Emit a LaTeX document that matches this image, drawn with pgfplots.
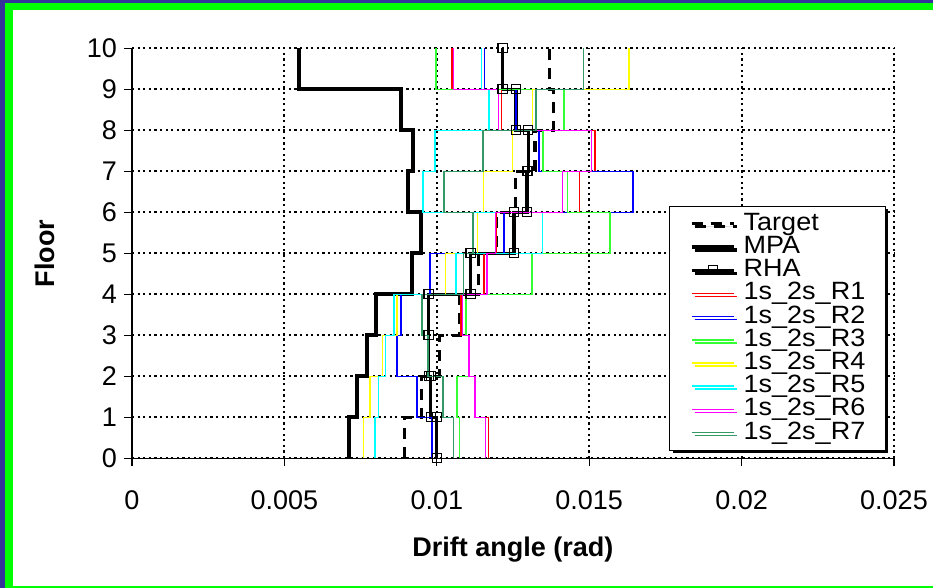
\documentclass[border=0pt]{standalone}
\usepackage{fontspec}
\setmainfont{Liberation Sans}
\newfontfamily\legendfont[FakeStretch=1.08]{Liberation Sans}
\usepackage{pgfplots}
\pgfplotsset{compat=1.18}
\usetikzlibrary{shadows}
\definecolor{frameblue}{RGB}{51,51,153}
\definecolor{framegreen}{RGB}{0,255,0}
\definecolor{rone}{RGB}{255,0,0}
\definecolor{rtwo}{RGB}{0,0,255}
\definecolor{rthree}{RGB}{51,255,51}
\definecolor{rfour}{RGB}{255,255,0}
\definecolor{rfive}{RGB}{0,255,255}
\definecolor{rsix}{RGB}{255,0,255}
\definecolor{rseven}{RGB}{51,153,102}

\begin{document}
\begin{tikzpicture}
% window frame
\fill[frameblue] (0,0) rectangle (466.5pt,294pt);
\fill[framegreen] (2.5pt,0) rectangle (466.5pt,292.25pt);
\fill[white] (6.5pt,1pt) rectangle (466.5pt,288.75pt);
\useasboundingbox (0,0) rectangle (466.5pt,294pt);
\begin{axis}[
  at={(66pt,64.85pt)}, anchor=south west,
  scale only axis, width=381pt, height=205pt,
  xmin=0, xmax=0.025, ymin=0, ymax=10,
  clip=false,
  scaled x ticks=false,
  xtick={0,0.005,0.01,0.015,0.02,0.025},
  xticklabels={0,0.005,0.01,0.015,0.02,0.025},
  ytick={0,1,2,3,4,5,6,7,8,9,10},
  yticklabels={0,1,2,3,4,5,6,7,8,9,10},
  axis x line*=bottom, axis y line*=left,
  axis line style={black, line width=0.6pt, -},
  tick align=outside, major tick length=4pt,
  tick style={black, line width=0.6pt},
  grid=major,
  major grid style={black, line width=1pt, dash pattern=on 1.1pt off 1.7pt},
  tick label style={font=\fontsize{13.5}{13.5}\selectfont},
  xticklabel style={yshift=-8.5pt},
  label style={font=\bfseries\fontsize{13.5}{13.5}\selectfont},
  xlabel={Drift angle (rad)},
  ylabel={Floor},
  xlabel style={at={(axis description cs:0.5,0)}, anchor=base, yshift=-49pt},
  ylabel style={at={(axis description cs:-0.1142,0.5)}, anchor=center},
  legend image code/.code={\draw[mark repeat=2,mark phase=2,#1] plot coordinates {(0pt,0pt) (10.5pt,0pt) (21pt,0pt)};},
  legend cell align=left,
  legend style={at={(axis description cs:0.705,0.616)}, anchor=north west,
    draw=black, line width=0.5pt, fill=white,
    inner xsep=10pt, inner ysep=3pt, column sep=4pt, row sep=0pt,
    font=\legendfont\fontsize{12.5}{12.5}\selectfont,
    nodes={inner sep=0pt, text height=9pt, text depth=2.6pt},
    drop shadow={shadow xshift=1.5pt, shadow yshift=-1.5pt, fill=black, opacity=1}},
]
% Target
\addplot[black, line width=1.6pt, dash pattern=on 5.5pt off 4pt] coordinates {
 (0.00893,0) (0.00893,1) (0.0095,1) (0.0095,2) (0.0101,2) (0.0101,3)
 (0.01076,3) (0.01076,4) (0.01136,4) (0.01136,5) (0.01197,5) (0.01197,6)
 (0.01257,6) (0.01257,7) (0.01322,7) (0.01322,8) (0.01382,8) (0.01382,9)
 (0.01369,9) (0.01369,10)};
\addlegendentry{Target}
% MPA
\addplot[black, line width=2pt] coordinates {
 (0.00713,0) (0.00713,1) (0.00737,1) (0.00737,2) (0.0077,2) (0.0077,3)
 (0.0080,3) (0.0080,4) (0.0092,4) (0.0092,5) (0.00947,5) (0.00947,6)
 (0.00905,6) (0.00905,7) (0.00923,7) (0.00923,8) (0.00882,8) (0.00882,9)
 (0.00548,9) (0.00548,10)};
\addlegendentry{MPA}
% RHA
\addplot[black, line width=1.6pt, mark=square, mark size=2.3pt, mark options={solid, fill=none, line width=0.6pt}] coordinates {
 (0.0100,0) (0.0100,1) (0.0098,1) (0.0098,2) (0.00974,2) (0.00974,3)
 (0.00973,3) (0.00973,4) (0.01111,4) (0.01111,5) (0.01253,5) (0.01253,6)
 (0.01296,6) (0.01296,7) (0.0130,7) (0.0130,8) (0.0126,8) (0.0126,9)
 (0.01216,9) (0.01216,10)};
\addlegendentry{RHA}
% records
\addplot[rone, line width=0.75pt] coordinates {
 (0.01169,0) (0.01169,1) (0.01125,1) (0.01125,2) (0.01106,2) (0.01106,3)
 (0.01079,3) (0.01079,4) (0.01155,4) (0.01155,5) (0.01194,5) (0.01194,6)
 (0.01468,6) (0.01468,7) (0.01519,7) (0.01519,8) (0.01212,8) (0.01212,9)
 (0.0105,9) (0.0105,10)};
\addlegendentry{1s\_2s\_R1}
\addplot[rtwo, line width=0.75pt] coordinates {
 (0.00985,0) (0.00985,1) (0.00935,1) (0.00935,2) (0.0087,2) (0.0087,3)
 (0.00883,3) (0.00883,4) (0.00978,4) (0.00978,5) (0.01221,5) (0.01221,6)
 (0.01643,6) (0.01643,7) (0.01335,7) (0.01335,8) (0.0126,8) (0.0126,9)
 (0.01156,9) (0.01156,10)};
\addlegendentry{1s\_2s\_R2}
\addplot[rthree, line width=0.75pt] coordinates {
 (0.01074,0) (0.01074,1) (0.01067,1) (0.01067,2) (0.01106,2) (0.01106,3)
 (0.01096,3) (0.01096,4) (0.01313,4) (0.01313,5) (0.01568,5) (0.01568,6)
 (0.01428,6) (0.01428,7) (0.01349,7) (0.01349,8) (0.01417,8) (0.01417,9)
 (0.00997,9) (0.00997,10)};
\addlegendentry{1s\_2s\_R3}
\addplot[rfour, line width=0.75pt] coordinates {
 (0.00759,0) (0.00759,1) (0.00781,1) (0.00781,2) (0.00822,2) (0.00822,3)
 (0.00869,3) (0.00869,4) (0.01029,4) (0.01029,5) (0.01134,5) (0.01134,6)
 (0.01153,6) (0.01153,7) (0.01248,7) (0.01248,8) (0.01314,8) (0.01314,9)
 (0.0163,9) (0.0163,10)};
\addlegendentry{1s\_2s\_R4}
\addplot[rfive, line width=0.75pt] coordinates {
 (0.00797,0) (0.00797,1) (0.00808,1) (0.00808,2) (0.00832,2) (0.00832,3)
 (0.0086,3) (0.0086,4) (0.01063,4) (0.01063,5) (0.01346,5) (0.01346,6)
 (0.00954,6) (0.00954,7) (0.00994,7) (0.00994,8) (0.01171,8) (0.01171,9)
 (0.01147,9) (0.01147,10)};
\addlegendentry{1s\_2s\_R5}
\addplot[rsix, line width=0.75pt] coordinates {
 (0.0116,0) (0.0116,1) (0.01125,1) (0.01125,2) (0.01106,2) (0.01106,3)
 (0.01084,3) (0.01084,4) (0.01164,4) (0.01164,5) (0.01193,5) (0.01193,6)
 (0.01412,6) (0.01412,7) (0.01508,7) (0.01508,8) (0.01202,8) (0.01202,9)
 (0.01054,9) (0.01054,10)};
\addlegendentry{1s\_2s\_R6}
\addplot[rseven, line width=0.75pt] coordinates {
 (0.01054,0) (0.01054,1) (0.01021,1) (0.01021,2) (0.00971,2) (0.00971,3)
 (0.00951,3) (0.00951,4) (0.01088,4) (0.01088,5) (0.01119,5) (0.01119,6)
 (0.01023,6) (0.01023,7) (0.01152,7) (0.01152,8) (0.01325,8) (0.01325,9)
 (0.01481,9) (0.01481,10)};
\addlegendentry{1s\_2s\_R7}
\end{axis}
\end{tikzpicture}
\end{document}
